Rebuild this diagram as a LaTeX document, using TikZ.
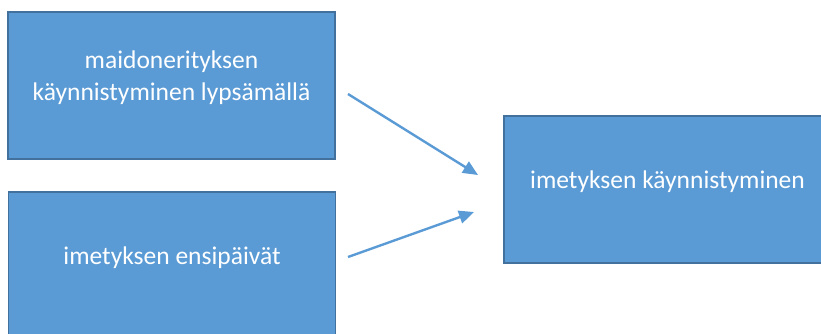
\documentclass[tikz,border=0pt]{standalone}
\usepackage{fontspec}
\setmainfont{Carlito}
\usepackage{tikz}
\usetikzlibrary{arrows.meta,positioning}
\definecolor{boxfill}{HTML}{5B9BD5}
\definecolor{boxline}{HTML}{41719C}

\begin{document}
\begin{tikzpicture}[
  x=1pt, y=-1pt,
  flowbox/.style={draw=boxline, fill=boxfill, line width=1.6pt, minimum width=327pt, minimum height=147pt, text=white, font=\fontsize{25.5}{32}\selectfont, align=center, inner sep=0pt, text depth=19pt},
  flowarrow/.style={draw=boxfill, line width=2.4pt, -{Triangle[length=15pt,width=13pt]}},
]
\useasboundingbox (0,0) rectangle (821,333);
\begin{scope}
\clip (0,0) rectangle (821,333);
% ===================== Left: two starting points =====================
\node[flowbox] (lypsy) at (171.5,85.5) {maidonerityksen\\käynnistyminen lypsämällä};
\node[flowbox] (ensi) at (172,265.5) {imetyksen ensipäivät};

% ===================== Right: result =====================
\node[flowbox] (imetys) at (667.5,189.5) {imetyksen käynnistyminen};
\end{scope}

% Connectors with free ends between the boxes
\coordinate (lypsyout) at (348,94);
\coordinate (ensiout) at (348,257);
\coordinate (imetysin1) at (478,175);
\coordinate (imetysin2) at (474,212);
\draw[flowarrow] (lypsyout) -- (imetysin1);
\draw[flowarrow] (ensiout) -- (imetysin2);

\end{tikzpicture}
\end{document}
